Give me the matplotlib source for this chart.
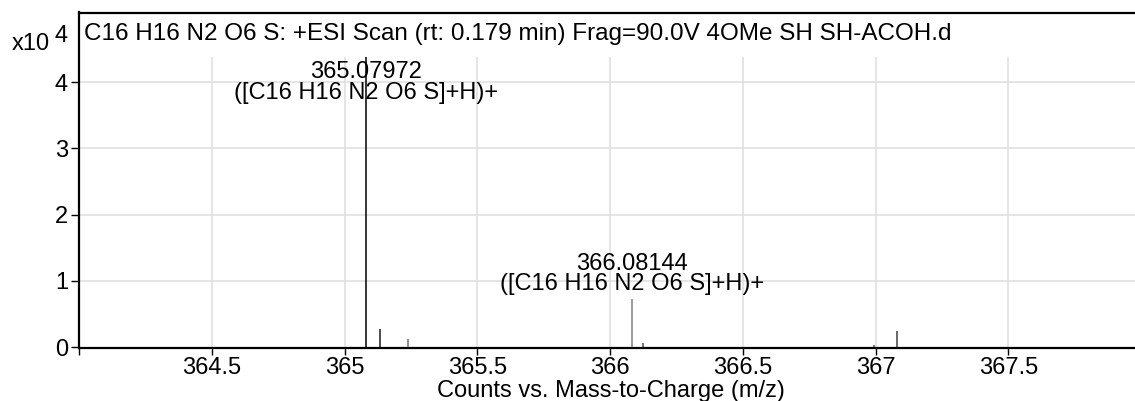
import matplotlib
matplotlib.use("Agg")
import matplotlib.pyplot as plt

plt.rcParams['font.family'] = ['Liberation Sans', 'DejaVu Sans']

# Data (intensity in units of 10^4 counts)
mz = [365.07972, 365.132, 365.238, 366.08144, 366.126, 366.996, 367.08]
intensity = [4.38, 0.27, 0.12, 0.72, 0.056, 0.03, 0.24]
peak_colors = ['#000000', '#1a1a1a', '#707070', '#808080', '#505050', '#505050', '#404040']

labeled_mz = [365.07972, 366.08144]
labeled_int = [4.38, 0.72]
label_text = ["365.07972\n([C16 H16 N2 O6 S]+H)+", "366.08144\n([C16 H16 N2 O6 S]+H)+"]

x_ticks = [364.0, 364.5, 365.0, 365.5, 366.0, 366.5, 367.0, 367.5]
x_tick_labels = ['', '364.5', '365', '365.5', '366', '366.5', '367', '367.5']
y_ticks = [0, 1, 2, 3, 4]
y_tick_labels = ['0', '1', '2', '3', '4']

title = "C16 H16 N2 O6 S: +ESI Scan (rt: 0.179 min) Frag=90.0V 4OMe SH SH-ACOH.d"
xlabel = "Counts vs. Mass-to-Charge (m/z)"

W, H = 1135, 401
fig = plt.figure(figsize=(W / 100, H / 100), dpi=100)
left_px, right_px, top_px, bottom_px = 79, 1140, 12.5, 347.7
ax = fig.add_axes([left_px / W, 1 - bottom_px / H, (right_px - left_px) / W, (bottom_px - top_px) / H])

x0 = 364.0
x1 = x0 + (right_px - left_px) / 265.5
ax.set_xlim(x0, x1)
ax.set_ylim(-0.01, 5.05)

grid_top = 4.38
ax.vlines([t for t in x_ticks if t > x0], 0, grid_top, colors='#e0e0e0', linewidth=1.2, zorder=0)
ax.hlines(y_ticks[1:], x0, x1, colors='#e0e0e0', linewidth=1.2, zorder=0)

ax.vlines(mz, 0, intensity, colors=peak_colors, linewidth=1.1, zorder=3)

fs = 17
offsets = [-34, 3]
for m, h, t, off in zip(labeled_mz, labeled_int, label_text, offsets):
    ax.annotate(t, xy=(m, h), xytext=(0, off), textcoords='offset points',
                ha='center', va='bottom', fontsize=fs, linespacing=0.92, zorder=4)

ax.set_xticks(x_ticks)
ax.set_xticklabels(x_tick_labels, fontsize=fs)
ax.set_yticks(y_ticks)
ax.set_yticklabels(y_tick_labels, fontsize=fs)
ax.tick_params(axis='x', direction='out', length=5, width=1, pad=1.5, colors='#000000')
ax.tick_params(axis='y', direction='out', length=6, width=1, pad=2, colors='#000000')

for s in ['left', 'top', 'bottom']:
    ax.spines[s].set_linewidth(1.6)
    ax.spines[s].set_color('#000000')
ax.spines['right'].set_visible(False)

fig.text(84 / W, 1 - 34 / H, title, ha='left', va='center', fontsize=17.5)
fig.text(12 / W, 1 - 44 / H, "x10", ha='left', va='center', fontsize=fs)
fig.text(54 / W, 1 - 36 / H, "4", ha='left', va='center', fontsize=fs)
fig.text(611 / W, 1 - 391.5 / H, xlabel, ha='center', va='center', fontsize=fs)

fig.savefig("out.png", dpi=100)
